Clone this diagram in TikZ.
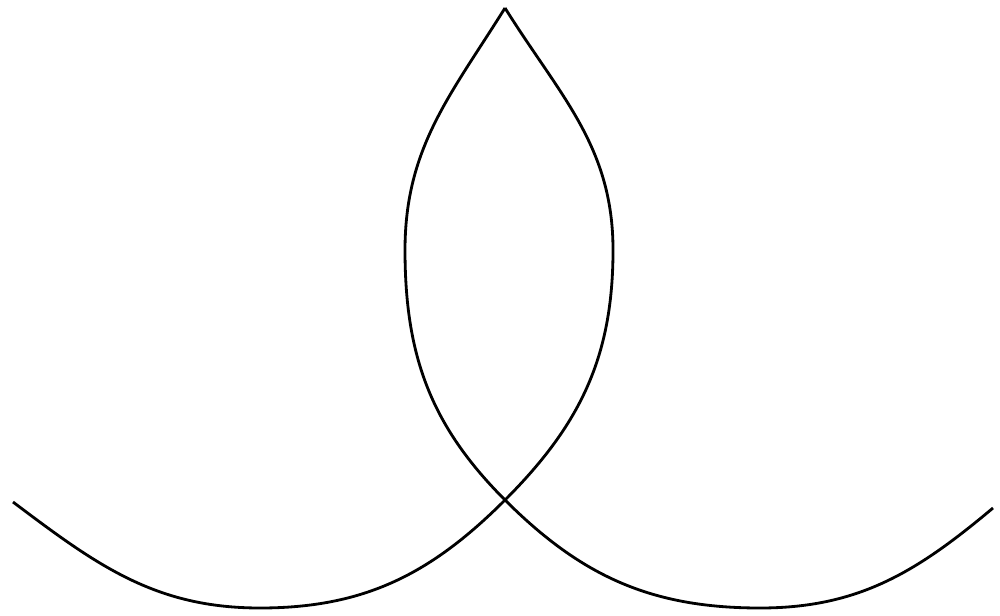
\documentclass[tikz,border=0pt]{standalone}
\begin{document}
\begin{tikzpicture}
\useasboundingbox (0,0) rectangle (10,6.15);

% top point, crossing, bulges and low points
\coordinate (T) at (5.05,6.07);
\coordinate (X) at (5.05,1.15);
\coordinate (L) at (4.05,3.65);
\coordinate (R) at (6.13,3.65);
\coordinate (BL) at (2.60,0.07);
\coordinate (BR) at (7.60,0.07);
\coordinate (EL) at (0.13,1.13);
\coordinate (ER) at (9.93,1.07);

% left loop, runs on into the right tail
\draw[thick] (T) to[out=238,in=90] (L) to[out=-90,in=135] (X)
  to[out=-45,in=180] (BR) to[out=0,in=220] (ER);

% right loop, runs on into the left tail
\draw[thick] (T) to[out=-58,in=90] (R) to[out=-90,in=45] (X)
  to[out=225,in=0] (BL) to[out=180,in=-37] (EL);
\end{tikzpicture}
\end{document}
